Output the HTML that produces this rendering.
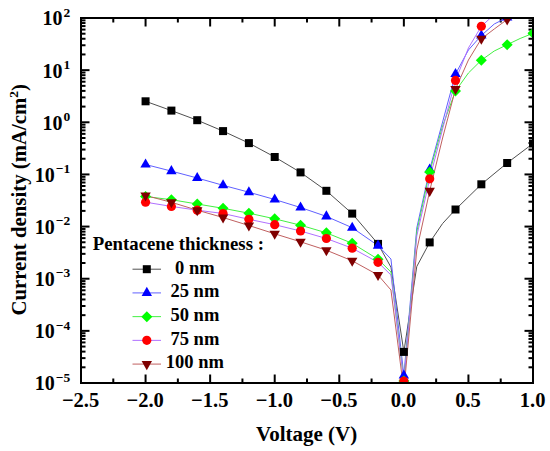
<!DOCTYPE html>
<html><head><meta charset="utf-8"><style>
html,body{margin:0;padding:0;background:#fff;width:550px;height:451px;overflow:hidden}
svg{display:block;font-family:"Liberation Serif",serif;font-weight:bold}
</style></head><body>
<svg width="550" height="451" viewBox="0 0 550 451">
<defs><clipPath id="cp"><rect x="81" y="18" width="452" height="365"/></clipPath></defs>
<g stroke="#000" stroke-width="2" fill="none">
<line x1="113.29" y1="383" x2="113.29" y2="378.5"/>
<line x1="113.29" y1="18" x2="113.29" y2="22.5"/>
<line x1="145.57" y1="383" x2="145.57" y2="374.5"/>
<line x1="145.57" y1="18" x2="145.57" y2="26.5"/>
<line x1="177.86" y1="383" x2="177.86" y2="378.5"/>
<line x1="177.86" y1="18" x2="177.86" y2="22.5"/>
<line x1="210.14" y1="383" x2="210.14" y2="374.5"/>
<line x1="210.14" y1="18" x2="210.14" y2="26.5"/>
<line x1="242.43" y1="383" x2="242.43" y2="378.5"/>
<line x1="242.43" y1="18" x2="242.43" y2="22.5"/>
<line x1="274.71" y1="383" x2="274.71" y2="374.5"/>
<line x1="274.71" y1="18" x2="274.71" y2="26.5"/>
<line x1="307.00" y1="383" x2="307.00" y2="378.5"/>
<line x1="307.00" y1="18" x2="307.00" y2="22.5"/>
<line x1="339.29" y1="383" x2="339.29" y2="374.5"/>
<line x1="339.29" y1="18" x2="339.29" y2="26.5"/>
<line x1="371.57" y1="383" x2="371.57" y2="378.5"/>
<line x1="371.57" y1="18" x2="371.57" y2="22.5"/>
<line x1="403.86" y1="383" x2="403.86" y2="374.5"/>
<line x1="403.86" y1="18" x2="403.86" y2="26.5"/>
<line x1="436.14" y1="383" x2="436.14" y2="378.5"/>
<line x1="436.14" y1="18" x2="436.14" y2="22.5"/>
<line x1="468.43" y1="383" x2="468.43" y2="374.5"/>
<line x1="468.43" y1="18" x2="468.43" y2="26.5"/>
<line x1="500.71" y1="383" x2="500.71" y2="378.5"/>
<line x1="500.71" y1="18" x2="500.71" y2="22.5"/>
<line x1="81" y1="367.30" x2="85.5" y2="367.30"/>
<line x1="533" y1="367.30" x2="528.5" y2="367.30"/>
<line x1="81" y1="358.12" x2="85.5" y2="358.12"/>
<line x1="533" y1="358.12" x2="528.5" y2="358.12"/>
<line x1="81" y1="351.61" x2="85.5" y2="351.61"/>
<line x1="533" y1="351.61" x2="528.5" y2="351.61"/>
<line x1="81" y1="346.55" x2="85.5" y2="346.55"/>
<line x1="533" y1="346.55" x2="528.5" y2="346.55"/>
<line x1="81" y1="342.43" x2="85.5" y2="342.43"/>
<line x1="533" y1="342.43" x2="528.5" y2="342.43"/>
<line x1="81" y1="338.94" x2="85.5" y2="338.94"/>
<line x1="533" y1="338.94" x2="528.5" y2="338.94"/>
<line x1="81" y1="335.91" x2="85.5" y2="335.91"/>
<line x1="533" y1="335.91" x2="528.5" y2="335.91"/>
<line x1="81" y1="333.24" x2="85.5" y2="333.24"/>
<line x1="533" y1="333.24" x2="528.5" y2="333.24"/>
<line x1="81" y1="330.86" x2="89.5" y2="330.86"/>
<line x1="533" y1="330.86" x2="524.5" y2="330.86"/>
<line x1="81" y1="315.16" x2="85.5" y2="315.16"/>
<line x1="533" y1="315.16" x2="528.5" y2="315.16"/>
<line x1="81" y1="305.98" x2="85.5" y2="305.98"/>
<line x1="533" y1="305.98" x2="528.5" y2="305.98"/>
<line x1="81" y1="299.46" x2="85.5" y2="299.46"/>
<line x1="533" y1="299.46" x2="528.5" y2="299.46"/>
<line x1="81" y1="294.41" x2="85.5" y2="294.41"/>
<line x1="533" y1="294.41" x2="528.5" y2="294.41"/>
<line x1="81" y1="290.28" x2="85.5" y2="290.28"/>
<line x1="533" y1="290.28" x2="528.5" y2="290.28"/>
<line x1="81" y1="286.79" x2="85.5" y2="286.79"/>
<line x1="533" y1="286.79" x2="528.5" y2="286.79"/>
<line x1="81" y1="283.77" x2="85.5" y2="283.77"/>
<line x1="533" y1="283.77" x2="528.5" y2="283.77"/>
<line x1="81" y1="281.10" x2="85.5" y2="281.10"/>
<line x1="533" y1="281.10" x2="528.5" y2="281.10"/>
<line x1="81" y1="278.72" x2="89.5" y2="278.72"/>
<line x1="533" y1="278.72" x2="524.5" y2="278.72"/>
<line x1="81" y1="263.02" x2="85.5" y2="263.02"/>
<line x1="533" y1="263.02" x2="528.5" y2="263.02"/>
<line x1="81" y1="253.84" x2="85.5" y2="253.84"/>
<line x1="533" y1="253.84" x2="528.5" y2="253.84"/>
<line x1="81" y1="247.32" x2="85.5" y2="247.32"/>
<line x1="533" y1="247.32" x2="528.5" y2="247.32"/>
<line x1="81" y1="242.27" x2="85.5" y2="242.27"/>
<line x1="533" y1="242.27" x2="528.5" y2="242.27"/>
<line x1="81" y1="238.14" x2="85.5" y2="238.14"/>
<line x1="533" y1="238.14" x2="528.5" y2="238.14"/>
<line x1="81" y1="234.65" x2="85.5" y2="234.65"/>
<line x1="533" y1="234.65" x2="528.5" y2="234.65"/>
<line x1="81" y1="231.63" x2="85.5" y2="231.63"/>
<line x1="533" y1="231.63" x2="528.5" y2="231.63"/>
<line x1="81" y1="228.96" x2="85.5" y2="228.96"/>
<line x1="533" y1="228.96" x2="528.5" y2="228.96"/>
<line x1="81" y1="226.57" x2="89.5" y2="226.57"/>
<line x1="533" y1="226.57" x2="524.5" y2="226.57"/>
<line x1="81" y1="210.88" x2="85.5" y2="210.88"/>
<line x1="533" y1="210.88" x2="528.5" y2="210.88"/>
<line x1="81" y1="201.69" x2="85.5" y2="201.69"/>
<line x1="533" y1="201.69" x2="528.5" y2="201.69"/>
<line x1="81" y1="195.18" x2="85.5" y2="195.18"/>
<line x1="533" y1="195.18" x2="528.5" y2="195.18"/>
<line x1="81" y1="190.13" x2="85.5" y2="190.13"/>
<line x1="533" y1="190.13" x2="528.5" y2="190.13"/>
<line x1="81" y1="186.00" x2="85.5" y2="186.00"/>
<line x1="533" y1="186.00" x2="528.5" y2="186.00"/>
<line x1="81" y1="182.51" x2="85.5" y2="182.51"/>
<line x1="533" y1="182.51" x2="528.5" y2="182.51"/>
<line x1="81" y1="179.48" x2="85.5" y2="179.48"/>
<line x1="533" y1="179.48" x2="528.5" y2="179.48"/>
<line x1="81" y1="176.81" x2="85.5" y2="176.81"/>
<line x1="533" y1="176.81" x2="528.5" y2="176.81"/>
<line x1="81" y1="174.43" x2="89.5" y2="174.43"/>
<line x1="533" y1="174.43" x2="524.5" y2="174.43"/>
<line x1="81" y1="158.73" x2="85.5" y2="158.73"/>
<line x1="533" y1="158.73" x2="528.5" y2="158.73"/>
<line x1="81" y1="149.55" x2="85.5" y2="149.55"/>
<line x1="533" y1="149.55" x2="528.5" y2="149.55"/>
<line x1="81" y1="143.04" x2="85.5" y2="143.04"/>
<line x1="533" y1="143.04" x2="528.5" y2="143.04"/>
<line x1="81" y1="137.98" x2="85.5" y2="137.98"/>
<line x1="533" y1="137.98" x2="528.5" y2="137.98"/>
<line x1="81" y1="133.85" x2="85.5" y2="133.85"/>
<line x1="533" y1="133.85" x2="528.5" y2="133.85"/>
<line x1="81" y1="130.36" x2="85.5" y2="130.36"/>
<line x1="533" y1="130.36" x2="528.5" y2="130.36"/>
<line x1="81" y1="127.34" x2="85.5" y2="127.34"/>
<line x1="533" y1="127.34" x2="528.5" y2="127.34"/>
<line x1="81" y1="124.67" x2="85.5" y2="124.67"/>
<line x1="533" y1="124.67" x2="528.5" y2="124.67"/>
<line x1="81" y1="122.29" x2="89.5" y2="122.29"/>
<line x1="533" y1="122.29" x2="524.5" y2="122.29"/>
<line x1="81" y1="106.59" x2="85.5" y2="106.59"/>
<line x1="533" y1="106.59" x2="528.5" y2="106.59"/>
<line x1="81" y1="97.41" x2="85.5" y2="97.41"/>
<line x1="533" y1="97.41" x2="528.5" y2="97.41"/>
<line x1="81" y1="90.89" x2="85.5" y2="90.89"/>
<line x1="533" y1="90.89" x2="528.5" y2="90.89"/>
<line x1="81" y1="85.84" x2="85.5" y2="85.84"/>
<line x1="533" y1="85.84" x2="528.5" y2="85.84"/>
<line x1="81" y1="81.71" x2="85.5" y2="81.71"/>
<line x1="533" y1="81.71" x2="528.5" y2="81.71"/>
<line x1="81" y1="78.22" x2="85.5" y2="78.22"/>
<line x1="533" y1="78.22" x2="528.5" y2="78.22"/>
<line x1="81" y1="75.20" x2="85.5" y2="75.20"/>
<line x1="533" y1="75.20" x2="528.5" y2="75.20"/>
<line x1="81" y1="72.53" x2="85.5" y2="72.53"/>
<line x1="533" y1="72.53" x2="528.5" y2="72.53"/>
<line x1="81" y1="70.14" x2="89.5" y2="70.14"/>
<line x1="533" y1="70.14" x2="524.5" y2="70.14"/>
<line x1="81" y1="54.45" x2="85.5" y2="54.45"/>
<line x1="533" y1="54.45" x2="528.5" y2="54.45"/>
<line x1="81" y1="45.26" x2="85.5" y2="45.26"/>
<line x1="533" y1="45.26" x2="528.5" y2="45.26"/>
<line x1="81" y1="38.75" x2="85.5" y2="38.75"/>
<line x1="533" y1="38.75" x2="528.5" y2="38.75"/>
<line x1="81" y1="33.70" x2="85.5" y2="33.70"/>
<line x1="533" y1="33.70" x2="528.5" y2="33.70"/>
<line x1="81" y1="29.57" x2="85.5" y2="29.57"/>
<line x1="533" y1="29.57" x2="528.5" y2="29.57"/>
<line x1="81" y1="26.08" x2="85.5" y2="26.08"/>
<line x1="533" y1="26.08" x2="528.5" y2="26.08"/>
<line x1="81" y1="23.05" x2="85.5" y2="23.05"/>
<line x1="533" y1="23.05" x2="528.5" y2="23.05"/>
<line x1="81" y1="20.39" x2="85.5" y2="20.39"/>
<line x1="533" y1="20.39" x2="528.5" y2="20.39"/>
</g>
<g clip-path="url(#cp)">
<path d="M145.57,101.30 L171.40,110.60 L197.23,120.20 L223.06,131.10 L248.89,143.10 L274.71,157.00 L300.54,172.40 L326.37,190.80 L352.20,213.60 L378.03,243.90 L390.94,267.20 L403.86,351.90 L416.77,266.50 L429.69,242.40 L442.60,223.50 L455.51,209.50 L481.34,184.30 L507.17,163.00 L533.00,143.50" fill="none" stroke="#505050" stroke-width="1" stroke-linejoin="round"/>
<path d="M145.57,164.50 L171.40,171.10 L197.23,178.00 L223.06,185.30 L248.89,192.20 L274.71,199.50 L300.54,207.50 L326.37,216.40 L352.20,227.70 L378.03,245.60 L390.94,259.00 L403.86,375.50 L416.77,228.00 L429.69,169.50 L442.60,122.00 L455.51,74.00 L468.43,50.00 L481.34,35.50 L494.26,24.00 L507.17,17.50 L520.09,8.00 L533.00,1.50" fill="none" stroke="#6060ff" stroke-width="1" stroke-linejoin="round"/>
<path d="M145.57,196.50 L171.40,199.70 L197.23,204.00 L223.06,208.30 L248.89,213.20 L274.71,218.80 L300.54,225.20 L326.37,232.80 L352.20,243.30 L378.03,259.20 L390.94,272.00 L403.86,381.00 L416.77,232.00 L429.69,172.00 L442.60,126.00 L455.51,91.00 L468.43,73.00 L481.34,60.20 L494.26,51.00 L507.17,44.70 L520.09,38.50 L533.00,33.30" fill="none" stroke="#44f044" stroke-width="1" stroke-linejoin="round"/>
<path d="M145.57,202.20 L171.40,206.40 L197.23,210.20 L223.06,213.50 L248.89,219.30 L274.71,224.70 L300.54,231.00 L326.37,238.50 L352.20,248.20 L378.03,262.30 L390.94,275.00 L403.86,381.00 L416.77,236.00 L429.69,178.80 L442.60,129.00 L455.51,80.40 L468.43,48.00 L481.34,26.30 L494.26,14.50 L507.17,3.00" fill="none" stroke="#b070ff" stroke-width="1" stroke-linejoin="round"/>
<path d="M145.57,195.50 L171.40,202.30 L197.23,210.20 L223.06,217.50 L248.89,225.50 L274.71,233.80 L300.54,241.80 L326.37,250.20 L352.20,260.80 L378.03,275.00 L390.94,290.00 L403.86,390.50 L416.77,250.00 L429.69,190.90 L442.60,138.00 L455.51,89.00 L468.43,60.00 L481.34,38.80 L494.26,29.00 L507.17,19.50 L520.09,12.00 L533.00,2.50" fill="none" stroke="#c06060" stroke-width="1" stroke-linejoin="round"/>
<rect x="141.57" y="97.30" width="8" height="8" fill="#000"/>
<rect x="167.40" y="106.60" width="8" height="8" fill="#000"/>
<rect x="193.23" y="116.20" width="8" height="8" fill="#000"/>
<rect x="219.06" y="127.10" width="8" height="8" fill="#000"/>
<rect x="244.89" y="139.10" width="8" height="8" fill="#000"/>
<rect x="270.71" y="153.00" width="8" height="8" fill="#000"/>
<rect x="296.54" y="168.40" width="8" height="8" fill="#000"/>
<rect x="322.37" y="186.80" width="8" height="8" fill="#000"/>
<rect x="348.20" y="209.60" width="8" height="8" fill="#000"/>
<rect x="374.03" y="239.90" width="8" height="8" fill="#000"/>
<rect x="399.86" y="347.90" width="8" height="8" fill="#000"/>
<rect x="425.69" y="238.40" width="8" height="8" fill="#000"/>
<rect x="451.51" y="205.50" width="8" height="8" fill="#000"/>
<rect x="477.34" y="180.30" width="8" height="8" fill="#000"/>
<rect x="503.17" y="159.00" width="8" height="8" fill="#000"/>
<rect x="529.00" y="139.50" width="8" height="8" fill="#000"/>
<path d="M145.57,158.43 L150.77,167.53 L140.37,167.53Z" fill="#0000ff"/>
<path d="M171.40,165.03 L176.60,174.13 L166.20,174.13Z" fill="#0000ff"/>
<path d="M197.23,171.93 L202.43,181.03 L192.03,181.03Z" fill="#0000ff"/>
<path d="M223.06,179.23 L228.26,188.33 L217.86,188.33Z" fill="#0000ff"/>
<path d="M248.89,186.13 L254.09,195.23 L243.69,195.23Z" fill="#0000ff"/>
<path d="M274.71,193.43 L279.91,202.53 L269.51,202.53Z" fill="#0000ff"/>
<path d="M300.54,201.43 L305.74,210.53 L295.34,210.53Z" fill="#0000ff"/>
<path d="M326.37,210.33 L331.57,219.43 L321.17,219.43Z" fill="#0000ff"/>
<path d="M352.20,221.63 L357.40,230.73 L347.00,230.73Z" fill="#0000ff"/>
<path d="M378.03,239.53 L383.23,248.63 L372.83,248.63Z" fill="#0000ff"/>
<path d="M403.86,369.43 L409.06,378.53 L398.66,378.53Z" fill="#0000ff"/>
<path d="M429.69,163.43 L434.89,172.53 L424.49,172.53Z" fill="#0000ff"/>
<path d="M455.51,67.93 L460.71,77.03 L450.31,77.03Z" fill="#0000ff"/>
<path d="M481.34,29.43 L486.54,38.53 L476.14,38.53Z" fill="#0000ff"/>
<path d="M507.17,11.43 L512.37,20.53 L501.97,20.53Z" fill="#0000ff"/>
<path d="M533.00,-4.57 L538.20,4.53 L527.80,4.53Z" fill="#0000ff"/>
<path d="M145.57,191.00 L151.07,196.50 L145.57,202.00 L140.07,196.50Z" fill="#00ff00"/>
<path d="M171.40,194.20 L176.90,199.70 L171.40,205.20 L165.90,199.70Z" fill="#00ff00"/>
<path d="M197.23,198.50 L202.73,204.00 L197.23,209.50 L191.73,204.00Z" fill="#00ff00"/>
<path d="M223.06,202.80 L228.56,208.30 L223.06,213.80 L217.56,208.30Z" fill="#00ff00"/>
<path d="M248.89,207.70 L254.39,213.20 L248.89,218.70 L243.39,213.20Z" fill="#00ff00"/>
<path d="M274.71,213.30 L280.21,218.80 L274.71,224.30 L269.21,218.80Z" fill="#00ff00"/>
<path d="M300.54,219.70 L306.04,225.20 L300.54,230.70 L295.04,225.20Z" fill="#00ff00"/>
<path d="M326.37,227.30 L331.87,232.80 L326.37,238.30 L320.87,232.80Z" fill="#00ff00"/>
<path d="M352.20,237.80 L357.70,243.30 L352.20,248.80 L346.70,243.30Z" fill="#00ff00"/>
<path d="M378.03,253.70 L383.53,259.20 L378.03,264.70 L372.53,259.20Z" fill="#00ff00"/>
<path d="M403.86,375.50 L409.36,381.00 L403.86,386.50 L398.36,381.00Z" fill="#00ff00"/>
<path d="M429.69,166.50 L435.19,172.00 L429.69,177.50 L424.19,172.00Z" fill="#00ff00"/>
<path d="M455.51,85.50 L461.01,91.00 L455.51,96.50 L450.01,91.00Z" fill="#00ff00"/>
<path d="M481.34,54.70 L486.84,60.20 L481.34,65.70 L475.84,60.20Z" fill="#00ff00"/>
<path d="M507.17,39.20 L512.67,44.70 L507.17,50.20 L501.67,44.70Z" fill="#00ff00"/>
<path d="M533.00,27.80 L538.50,33.30 L533.00,38.80 L527.50,33.30Z" fill="#00ff00"/>
<circle cx="145.57" cy="202.20" r="4.6" fill="#ff0000"/>
<circle cx="171.40" cy="206.40" r="4.6" fill="#ff0000"/>
<circle cx="197.23" cy="210.20" r="4.6" fill="#ff0000"/>
<circle cx="223.06" cy="213.50" r="4.6" fill="#ff0000"/>
<circle cx="248.89" cy="219.30" r="4.6" fill="#ff0000"/>
<circle cx="274.71" cy="224.70" r="4.6" fill="#ff0000"/>
<circle cx="300.54" cy="231.00" r="4.6" fill="#ff0000"/>
<circle cx="326.37" cy="238.50" r="4.6" fill="#ff0000"/>
<circle cx="352.20" cy="248.20" r="4.6" fill="#ff0000"/>
<circle cx="378.03" cy="262.30" r="4.6" fill="#ff0000"/>
<circle cx="403.86" cy="381.00" r="4.6" fill="#ff0000"/>
<circle cx="429.69" cy="178.80" r="4.6" fill="#ff0000"/>
<circle cx="455.51" cy="80.40" r="4.6" fill="#ff0000"/>
<circle cx="481.34" cy="26.30" r="4.6" fill="#ff0000"/>
<circle cx="507.17" cy="3.00" r="4.6" fill="#ff0000"/>
<path d="M140.37,192.47 L150.77,192.47 L145.57,201.57Z" fill="#7f0000"/>
<path d="M166.20,199.27 L176.60,199.27 L171.40,208.37Z" fill="#7f0000"/>
<path d="M192.03,207.17 L202.43,207.17 L197.23,216.27Z" fill="#7f0000"/>
<path d="M217.86,214.47 L228.26,214.47 L223.06,223.57Z" fill="#7f0000"/>
<path d="M243.69,222.47 L254.09,222.47 L248.89,231.57Z" fill="#7f0000"/>
<path d="M269.51,230.77 L279.91,230.77 L274.71,239.87Z" fill="#7f0000"/>
<path d="M295.34,238.77 L305.74,238.77 L300.54,247.87Z" fill="#7f0000"/>
<path d="M321.17,247.17 L331.57,247.17 L326.37,256.27Z" fill="#7f0000"/>
<path d="M347.00,257.77 L357.40,257.77 L352.20,266.87Z" fill="#7f0000"/>
<path d="M372.83,271.97 L383.23,271.97 L378.03,281.07Z" fill="#7f0000"/>
<path d="M398.66,387.47 L409.06,387.47 L403.86,396.57Z" fill="#7f0000"/>
<path d="M424.49,187.87 L434.89,187.87 L429.69,196.97Z" fill="#7f0000"/>
<path d="M450.31,85.97 L460.71,85.97 L455.51,95.07Z" fill="#7f0000"/>
<path d="M476.14,35.77 L486.54,35.77 L481.34,44.87Z" fill="#7f0000"/>
<path d="M501.97,16.47 L512.37,16.47 L507.17,25.57Z" fill="#7f0000"/>
<path d="M527.80,-0.53 L538.20,-0.53 L533.00,8.57Z" fill="#7f0000"/>
</g>
<rect x="81" y="18" width="452" height="365" stroke="#000" stroke-width="2" fill="none"/>
<g font-size="20.5" fill="#000">
<text x="80.60" y="406.6" text-anchor="middle">−2.5</text>
<text x="145.17" y="406.6" text-anchor="middle">−2.0</text>
<text x="209.74" y="406.6" text-anchor="middle">−1.5</text>
<text x="274.31" y="406.6" text-anchor="middle">−1.0</text>
<text x="338.89" y="406.6" text-anchor="middle">−0.5</text>
<text x="403.46" y="406.6" text-anchor="middle">0.0</text>
<text x="468.03" y="406.6" text-anchor="middle">0.5</text>
<text x="532.60" y="406.6" text-anchor="middle">1.0</text>
</g>
<g font-size="20" fill="#000">
<text x="70.3" y="390.40" text-anchor="end">10<tspan dx="1" dy="-8.7" font-size="13.5">−5</tspan></text>
<text x="70.3" y="338.26" text-anchor="end">10<tspan dx="1" dy="-8.7" font-size="13.5">−4</tspan></text>
<text x="70.3" y="286.12" text-anchor="end">10<tspan dx="1" dy="-8.7" font-size="13.5">−3</tspan></text>
<text x="70.3" y="233.97" text-anchor="end">10<tspan dx="1" dy="-8.7" font-size="13.5">−2</tspan></text>
<text x="70.3" y="181.83" text-anchor="end">10<tspan dx="1" dy="-8.7" font-size="13.5">−1</tspan></text>
<text x="70.3" y="129.69" text-anchor="end">10<tspan dx="1" dy="-8.7" font-size="13.5">0</tspan></text>
<text x="70.3" y="77.54" text-anchor="end">10<tspan dx="1" dy="-8.7" font-size="13.5">1</tspan></text>
<text x="70.3" y="25.40" text-anchor="end">10<tspan dx="1" dy="-8.7" font-size="13.5">2</tspan></text>
</g>
<text x="306.6" y="440.7" text-anchor="middle" font-size="21">Voltage (V)</text>
<text transform="translate(25.8,199.8) rotate(-90)" text-anchor="middle" font-size="20.8">Current density (mA/cm<tspan dy="-8" font-size="13.5">2</tspan><tspan dy="8">)</tspan></text>
<text x="92.8" y="249.5" font-size="18.8">Pentacene thickness :</text>
<line x1="132.5" y1="269.20" x2="161" y2="269.20" stroke="#505050" stroke-width="1"/>
<rect x="142.80" y="265.20" width="8" height="8" fill="#000"/>
<text x="194.9" y="273.70" text-anchor="middle" font-size="18.5">0 nm</text>
<line x1="132.5" y1="292.92" x2="161" y2="292.92" stroke="#6060ff" stroke-width="1"/>
<path d="M146.80,286.85 L152.00,295.95 L141.60,295.95Z" fill="#0000ff"/>
<text x="194.9" y="297.35" text-anchor="middle" font-size="18.5">25 nm</text>
<line x1="132.5" y1="316.64" x2="161" y2="316.64" stroke="#44f044" stroke-width="1"/>
<path d="M146.80,311.14 L152.30,316.64 L146.80,322.14 L141.30,316.64Z" fill="#00ff00"/>
<text x="194.9" y="321.00" text-anchor="middle" font-size="18.5">50 nm</text>
<line x1="132.5" y1="340.36" x2="161" y2="340.36" stroke="#b070ff" stroke-width="1"/>
<circle cx="146.80" cy="340.36" r="4.6" fill="#ff0000"/>
<text x="194.9" y="344.65" text-anchor="middle" font-size="18.5">75 nm</text>
<line x1="132.5" y1="364.08" x2="161" y2="364.08" stroke="#c06060" stroke-width="1"/>
<path d="M141.60,361.05 L152.00,361.05 L146.80,370.15Z" fill="#7f0000"/>
<text x="194.9" y="368.30" text-anchor="middle" font-size="18.5">100 nm</text>
</svg>
</body></html>
